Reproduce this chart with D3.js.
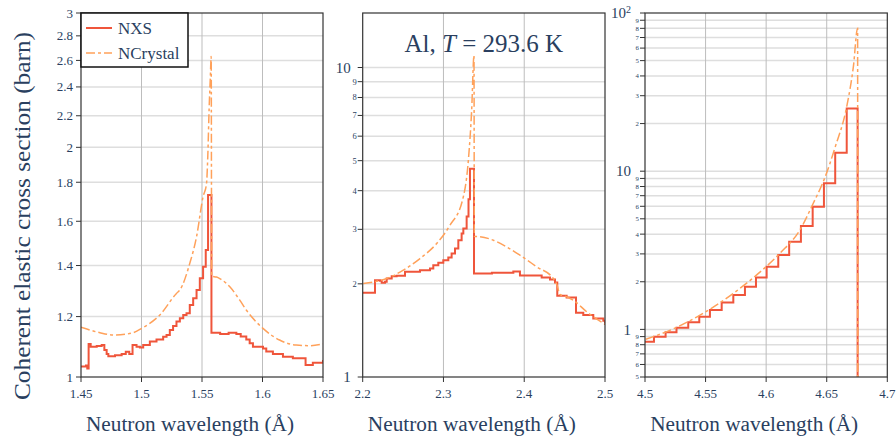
<!DOCTYPE html>
<html><head><meta charset="utf-8">
<script src="https://cdn.jsdelivr.net/npm/d3@7"></script>
<style>body{margin:0;background:#fff}svg{display:block}</style>
</head><body><svg id="c" width="896" height="437"></svg>
<script>
// ---------- DATA ----------
const seriesNames = ["NXS", "NCrystal"];
const titleText = ["Al, ", "T", " = 293.6 K"];
const yTitle = "Coherent elastic cross section (barn)";
const xTitle = "Neutron wavelength (Å)";

// Panel 1
const p1XTicks = [1.45, 1.5, 1.55, 1.6, 1.65];
const p1XLabels = ["1.45", "1.5", "1.55", "1.6", "1.65"];
const p1YTicks = [1, 1.2, 1.4, 1.6, 1.8, 2, 2.2, 2.4, 2.6, 2.8, 3];
const p1YLabels = ["1", "1.2", "1.4", "1.6", "1.8", "2", "2.2", "2.4", "2.6", "2.8", "3"];
const p1NxsL = [1.4500,1.4541,1.4552,1.4563,1.4580,1.4630,1.4671,1.4693,1.4712,1.4726,1.4781,1.4836,1.4870,1.4899,1.4926,1.4959,1.4987,1.5014,1.5069,1.5124,1.5179,1.5207,1.5234,1.5261,1.5289,1.5317,1.5345,1.5372,1.5399,1.5427,1.5455,1.5482,1.5509,1.5531,1.5550,1.5578,1.5650,1.5720,1.5784,1.5820,1.5866,1.5894,1.5921,1.6004,1.6031,1.6086,1.6169,1.6251,1.6356,1.6416,1.6500];
const p1NxsV = [1.032,1.035,1.026,1.105,1.096,1.098,1.101,1.085,1.072,1.065,1.068,1.072,1.079,1.072,1.101,1.096,1.093,1.101,1.113,1.120,1.129,1.135,1.152,1.166,1.182,1.194,1.206,1.212,1.243,1.268,1.300,1.347,1.395,1.467,1.732,1.143,1.139,1.143,1.139,1.130,1.120,1.107,1.096,1.090,1.080,1.072,1.063,1.058,1.037,1.044,1.053];
const p1NcL = [1.4500,1.4657,1.4781,1.4932,1.5001,1.5152,1.5289,1.5317,1.5399,1.5455,1.5509,1.5537,1.5548,1.5559,1.5568,1.5576,1.5580,1.5620,1.5650,1.5730,1.5812,1.5866,1.6004,1.6141,1.6279,1.6400,1.6500];
const p1NcV = [1.162,1.143,1.135,1.143,1.158,1.206,1.287,1.300,1.409,1.527,1.723,1.790,1.950,2.250,2.450,2.630,1.355,1.352,1.345,1.313,1.261,1.224,1.158,1.118,1.101,1.099,1.105];

// Panel 2
const p2XTicks = [2.2, 2.3, 2.4, 2.5];
const p2XLabels = ["2.2", "2.3", "2.4", "2.5"];
const p2YTicks = [1, 2, 3, 4, 5, 6, 7, 8, 9, 10];
const p2YLabels = ["1", "2", "3", "4", "5", "6", "7", "8", "9", "10"];
const p2NxsL = [2.2000,2.2152,2.2214,2.2235,2.2276,2.2297,2.2359,2.2420,2.2524,2.2709,2.2833,2.2874,2.2936,2.2998,2.3060,2.3101,2.3143,2.3184,2.3225,2.3246,2.3287,2.3310,2.3328,2.3378,2.3600,2.3782,2.3865,2.3947,2.4216,2.4319,2.4381,2.4409,2.4525,2.4641,2.4731,2.4855,2.4979,2.5000];
const p2NxsV = [1.871,2.055,2.045,2.015,2.030,2.081,2.117,2.125,2.187,2.214,2.241,2.298,2.338,2.385,2.432,2.506,2.600,2.767,2.907,3.017,3.300,3.750,4.710,2.160,2.171,2.171,2.192,2.128,2.097,2.066,2.020,1.830,1.807,1.613,1.585,1.546,1.519,1.471];
const p2NcL = [2.2008,2.2297,2.2503,2.2709,2.2916,2.3081,2.3235,2.3308,2.3349,2.3378,2.3382,2.3453,2.3617,2.3782,2.3947,2.4154,2.4360,2.4409,2.4440,2.4525,2.4607,2.4773,2.4855,2.5000];
const p2NcV = [2.005,2.081,2.214,2.414,2.699,3.093,3.720,5.010,7.270,10.93,2.850,2.840,2.767,2.633,2.475,2.270,2.081,1.970,1.850,1.816,1.771,1.625,1.565,1.482];

// Panel 3
const p3XTicks = [4.5, 4.55, 4.6, 4.65, 4.7];
const p3XLabels = ["4.5", "4.55", "4.6", "4.65", "4.7"];
const p3YTicks = [0.5,0.6,0.7,0.8,0.9,1,2,3,4,5,6,7,8,9,10,20,30,40,50,60,70,80,90,100];
const p3YLabels = ["5","6","7","8","9","1","2","3","4","5","6","7","8","9","10","2","3","4","5","6","7","8","9","10^2"];
const p3NxsL = [4.5000,4.5074,4.5170,4.5260,4.5357,4.5448,4.5536,4.5633,4.5729,4.5825,4.5916,4.6004,4.6100,4.6190,4.6287,4.6384,4.6477,4.6570,4.6665,4.6755,4.7000];
const p3NxsV = [0.836,0.899,0.958,1.025,1.108,1.200,1.326,1.480,1.650,1.860,2.130,2.490,2.950,3.580,4.500,5.960,8.380,13.10,24.90,0.200,0.200];
const p3NcL = [4.5006,4.5261,4.5454,4.5729,4.5922,4.6114,4.6279,4.6389,4.6477,4.6571,4.6665,4.6720,4.6755,4.6756];
const p3NcV = [0.865,1.030,1.230,1.690,2.210,3.030,4.250,6.270,8.800,14.30,25.60,45.80,80.00,0.200];

// ---------- DRAWING ----------
const RED = "#EF553B", ORANGE = "#FFA15A", TXT = "#2a3f5f";
const FONT = "'Liberation Serif', 'DejaVu Serif', serif";
const yTop = 13, yBot = 377;
const svg = d3.select("#c");

const panels = [
  {L: 81, R: 323, xd: [1.45, 1.65], yd: [1, 3], xt: p1XTicks, xl: p1XLabels, yt: p1YTicks, yl: p1YLabels,
   nxs: p1NxsL.map((l, i) => [l, p1NxsV[i]]), nc: p1NcL.map((l, i) => [l, p1NcV[i]]), logLabels: false, bigOff: 12, smallFs: 8.5},
  {L: 362.7, R: 605, xd: [2.2, 2.5], yd: [1, 15], xt: p2XTicks, xl: p2XLabels, yt: p2YTicks, yl: p2YLabels,
   nxs: p2NxsL.map((l, i) => [l, p2NxsV[i]]), nc: p2NcL.map((l, i) => [l, p2NcV[i]]), logLabels: true, bigOff: 12, smallFs: 8.5},
  {L: 645, R: 887.3, xd: [4.5, 4.7], yd: [0.5, 100], xt: p3XTicks, xl: p3XLabels, yt: p3YTicks, yl: p3YLabels,
   nxs: p3NxsL.map((l, i) => [l, p3NxsV[i]]), nc: p3NcL.map((l, i) => [l, p3NcV[i]]), logLabels: true, bigOff: 14, smallFs: 6.8}
];

const isPow10 = v => Math.abs(Math.log10(v) - Math.round(Math.log10(v))) < 1e-9;

panels.forEach((p, pi) => {
  const x = d3.scaleLinear().domain(p.xd).range([p.L, p.R]);
  const y = d3.scaleLog().domain(p.yd).range([yBot, yTop]);
  const g = svg.append("g");
  const cid = "clip" + pi;
  svg.append("clipPath").attr("id", cid).append("rect")
    .attr("x", p.L).attr("y", yTop).attr("width", p.R - p.L).attr("height", yBot - yTop);

  // y grid
  g.append("g").selectAll("line").data(p.yt.filter(v => y(v) > yTop + 0.5 && y(v) < yBot - 0.5)).join("line")
    .attr("x1", p.L).attr("x2", p.R).attr("y1", d => y(d)).attr("y2", d => y(d))
    .attr("stroke", "#dedede").attr("stroke-width", 1.5);
  // x grid
  g.append("g").selectAll("line").data(p.xt.filter(v => x(v) > p.L + 0.5 && x(v) < p.R - 0.5)).join("line")
    .attr("x1", d => x(d)).attr("x2", d => x(d)).attr("y1", yTop).attr("y2", yBot)
    .attr("stroke", "#bdbdbd").attr("stroke-width", 1);

  // curves
  const lineStep = d3.line().x(d => x(d[0])).y(d => y(d[1])).curve(d3.curveStepAfter);
  const lineSmooth = d3.line().x(d => x(d[0])).y(d => y(d[1])).curve(d3.curveMonotoneX);
  const cg = g.append("g").attr("clip-path", `url(#${cid})`);
  cg.append("path").attr("d", lineStep(p.nxs)).attr("fill", "none")
    .attr("stroke", RED).attr("stroke-width", 2).attr("stroke-linejoin", "miter");
  cg.append("path").attr("d", lineSmooth(p.nc)).attr("fill", "none")
    .attr("stroke", ORANGE).attr("stroke-width", 1.5).attr("stroke-dasharray", "9,3,3,3");

  // frame
  g.append("rect").attr("x", p.L).attr("y", yTop).attr("width", p.R - p.L).attr("height", yBot - yTop)
    .attr("fill", "none").attr("stroke", "#333").attr("stroke-width", 1.2);

  // x ticks
  p.xt.forEach((v, i) => {
    g.append("line").attr("x1", x(v)).attr("x2", x(v)).attr("y1", yBot).attr("y2", yBot + 5)
      .attr("stroke", "#333").attr("stroke-width", 1);
    g.append("text").attr("x", x(v)).attr("y", yBot + 21).attr("text-anchor", "middle")
      .attr("font-family", FONT).attr("font-size", 13).attr("fill", TXT).text(p.xl[i]);
  });
  // y ticks
  p.yt.forEach((v, i) => {
    g.append("line").attr("x1", p.L - 5).attr("x2", p.L).attr("y1", y(v)).attr("y2", y(v))
      .attr("stroke", "#333").attr("stroke-width", 1);
    const lab = p.yl[i];
    if (!p.logLabels) {
      g.append("text").attr("x", p.L - 8).attr("y", y(v)).attr("dy", "0.35em").attr("text-anchor", "end")
        .attr("font-family", FONT).attr("font-size", 13).attr("fill", TXT).text(lab);
    } else if (isPow10(v)) {
      const t = g.append("text").attr("x", p.L - p.bigOff).attr("y", y(v)).attr("dy", "0.35em").attr("text-anchor", "end")
        .attr("font-family", FONT).attr("font-size", 15).attr("fill", TXT);
      if (lab.includes("^")) {
        const [b, e] = lab.split("^");
        t.append("tspan").text(b);
        t.append("tspan").attr("font-size", 10).attr("dy", "-0.55em").text(e);
      } else t.text(lab);
    } else {
      g.append("text").attr("x", p.L - 6).attr("y", y(v)).attr("dy", "0.35em").attr("text-anchor", "end")
        .attr("font-family", FONT).attr("font-size", p.smallFs).attr("fill", TXT).text(lab);
    }
  });

  // x title
  svg.append("text").attr("x", (p.L + p.R) / 2 - 12).attr("y", 431).attr("text-anchor", "middle")
    .attr("font-family", FONT).attr("font-size", 20).attr("fill", TXT)
    .attr("textLength", 208).attr("lengthAdjust", "spacingAndGlyphs").text(xTitle);

  if (pi === 1) {
    const t = svg.append("text").attr("x", (p.L + p.R) / 2).attr("y", 52).attr("text-anchor", "middle")
      .attr("font-family", FONT).attr("font-size", 25).attr("fill", TXT);
    t.append("tspan").text(titleText[0]);
    t.append("tspan").attr("font-style", "italic").text(titleText[1]);
    t.append("tspan").text(titleText[2]);
  }

  if (pi === 0) {
    // legend
    const lg = svg.append("g");
    lg.append("rect").attr("x", p.L).attr("y", yTop).attr("width", 107).attr("height", 54)
      .attr("fill", "#fff").attr("stroke", "#111").attr("stroke-width", 1.5);
    lg.append("line").attr("x1", p.L + 5).attr("x2", p.L + 31).attr("y1", 28).attr("y2", 28)
      .attr("stroke", RED).attr("stroke-width", 2);
    lg.append("line").attr("x1", p.L + 5).attr("x2", p.L + 31).attr("y1", 53).attr("y2", 53)
      .attr("stroke", ORANGE).attr("stroke-width", 1.5).attr("stroke-dasharray", "9,3,3,3");
    lg.append("text").attr("x", p.L + 37).attr("y", 28).attr("dy", "0.35em")
      .attr("font-family", FONT).attr("font-size", 17).attr("fill", TXT).text(seriesNames[0]);
    lg.append("text").attr("x", p.L + 37).attr("y", 53).attr("dy", "0.35em")
      .attr("font-family", FONT).attr("font-size", 17).attr("fill", TXT).text(seriesNames[1]);
  }
});

// y title
svg.append("text").attr("transform", "translate(22,216) rotate(-90)").attr("text-anchor", "middle")
  .attr("dy", "0.35em").attr("font-family", FONT).attr("font-size", 23).attr("fill", TXT)
  .attr("textLength", 368).attr("lengthAdjust", "spacingAndGlyphs").text(yTitle);
</script>
</body></html>
